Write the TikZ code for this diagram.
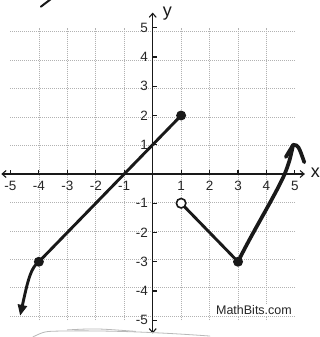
\documentclass[tikz,border=0pt]{standalone}
\usepackage{fontspec}
\setmainfont{Liberation Sans}
\usetikzlibrary{arrows.meta}
\begin{document}
\begin{tikzpicture}[x=28.45pt,y=29.25pt,
  gridline/.style={gray!60, line width=0.7pt, dash pattern=on 0.9pt off 1.1pt},
  axisline/.style={line width=1.6pt, black!90},
  tickmark/.style={line width=1.1pt, black!90},
  ticklabel/.style={font=\fontsize{13.5}{14}\selectfont, text=black!85, inner sep=0pt},
  axislabel/.style={font=\fontsize{18}{18}\selectfont, text=black!90, inner sep=0pt},
  curve/.style={line width=2.9pt, black!90, line cap=round, line join=round},
  thickcurve/.style={line width=3.7pt, black!90, line cap=round, line join=round},
  dot/.style={circle, fill=black!90, inner sep=0pt, minimum size=10pt},
  opendot/.style={circle, draw=black!90, fill=white, line width=1.6pt, inner sep=0pt, minimum size=9.5pt},
  pencil/.style={gray!55, line width=0.8pt, line cap=round},
  barb/.tip={Straight Barb[length=4pt,width=7pt,line width=1.1pt]}
]
\useasboundingbox[fill=white] (-5.367,-5.573) rectangle (5.88,5.949);
% grid
\draw[gridline] (-5,-5) grid (5,5);
% axes
\coordinate (xl) at (-5.32,0);
\coordinate (xr) at (5.35,0);
\coordinate (yb) at (0,-5.45);
\coordinate (yt) at (0,5.52);
\draw[axisline, barb-barb] (xl) -- (xr);
\draw[axisline, barb-barb] (yb) -- (yt);
\foreach \i in {-5,...,5} {
  \draw[tickmark] (\i,0) -- ++(0,4pt);
  \draw[tickmark] (0,\i) -- ++(4pt,0);
}
\foreach \i [count=\k] in {-5,-4,-3,-2,-1,1,2,3,4,5} {
  \node[ticklabel, anchor=north] (xt\k) at (\i,-0.24) {\i};
  \node[ticklabel, anchor=east] (yt\k) at (-0.16,\i) {\i};
}
\node[axislabel] (xlab) at (5.72,0.03) {x};
\node[axislabel] (ylab) at (0.52,5.47) {y};
% watermark
\node[fill=white, inner sep=1pt, font=\fontsize{12.5}{13}\selectfont, text=black!85] (mb) at (3.56,-4.65) {MathBits.com};
% graph points
\coordinate (A) at (-4,-3);
\coordinate (B) at (1,2);
\coordinate (C) at (1,-1);
\coordinate (D) at (3,-3);
\coordinate (L) at (-4.66,-4.85);
\coordinate (E) at (4.94,1.0);
\coordinate (Ew) at (4.68,0.58);
\coordinate (Er) at (5.33,0.4);
% left piece
\draw[curve, -{Triangle[length=11pt,width=9pt]}] (A) .. controls (-4.28,-3.2) and (-4.38,-3.6) .. (L);
\draw[curve] (A) -- (B);
% right piece
\draw[curve] (C) -- (D);
\draw[thickcurve] (D) .. controls (3.5,-2.0) and (4.3,-0.75) .. (4.64,0.0) .. controls (4.8,0.4) .. (E);
\draw[thickcurve] (Ew) -- (E) .. controls (5.12,0.98) .. (Er);
% dots
\node[dot] (Adot) at (A) {};
\node[dot] (Bdot) at (B) {};
\node[dot] (Ddot) at (D) {};
\node[opendot] (Cdot) at (C) {};
% pencil marks
\draw[pencil] (-4.21,-5.57) .. controls (-3.8,-5.38) .. (-3.26,-5.37) .. controls (-1.5,-5.34) and (0.3,-5.42) .. (2.01,-5.54);
\draw[pencil] (-3.0,-5.33) .. controls (-2.0,-5.28) .. (-0.6,-5.38);
\draw[line width=2pt, black!90, line cap=round] (-3.58,5.98) -- (-3.93,5.72);
\end{tikzpicture}
\end{document}
